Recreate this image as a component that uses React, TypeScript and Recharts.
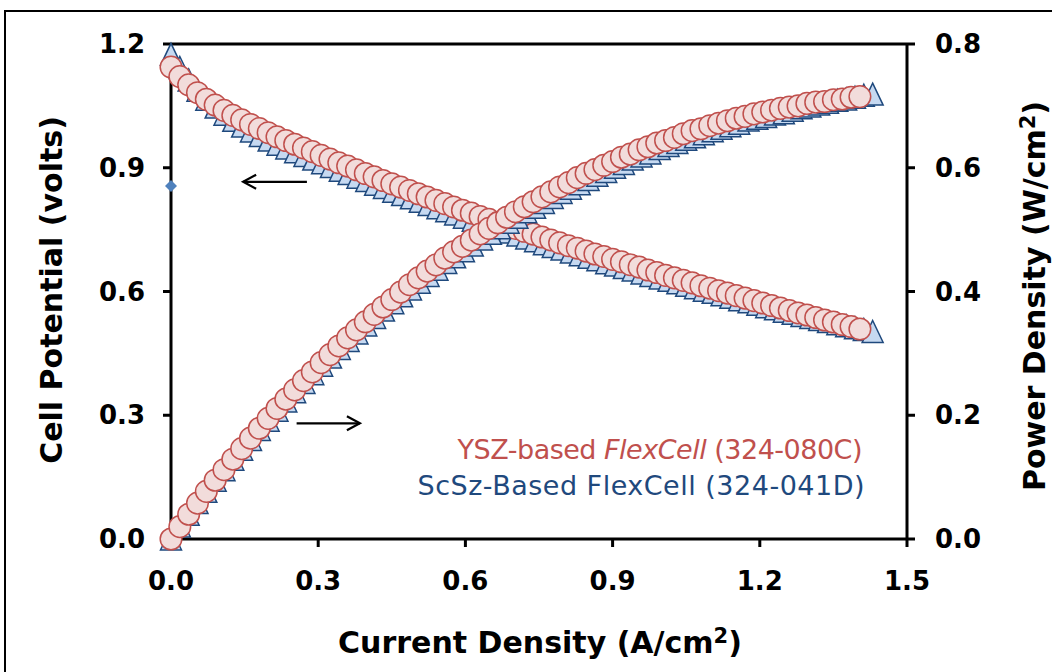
import React from 'react';
import { ScatterChart, Scatter, XAxis, YAxis, ReferenceLine } from 'recharts';

// YSZ-based FlexCell (324-080C): current density (A/cm2), cell potential (V), power density (W/cm2)
const yszCurrent = [
  0, 0.018, 0.036, 0.054, 0.072, 0.09, 0.108, 0.126, 0.144, 0.162,
  0.18, 0.198, 0.216, 0.234, 0.252, 0.27, 0.288, 0.306, 0.324, 0.342,
  0.36, 0.378, 0.396, 0.414, 0.432, 0.45, 0.468, 0.486, 0.504, 0.522,
  0.54, 0.558, 0.576, 0.594, 0.612, 0.63, 0.648, 0.666, 0.684, 0.702,
  0.72, 0.738, 0.756, 0.774, 0.792, 0.81, 0.828, 0.846, 0.864, 0.882,
  0.9, 0.918, 0.936, 0.954, 0.972, 0.99, 1.008, 1.026, 1.044, 1.062,
  1.08, 1.098, 1.116, 1.134, 1.152, 1.17, 1.188, 1.206, 1.224, 1.242,
  1.26, 1.278, 1.296, 1.314, 1.332, 1.35, 1.368, 1.386, 1.404,
];
const yszVoltage = [
  1.144, 1.121, 1.101, 1.082, 1.066, 1.052, 1.039, 1.027, 1.016, 1.005,
  0.995, 0.985, 0.975, 0.966, 0.957, 0.948, 0.939, 0.93, 0.921, 0.912,
  0.904, 0.895, 0.886, 0.878, 0.869, 0.861, 0.853, 0.845, 0.837, 0.829,
  0.821, 0.813, 0.805, 0.797, 0.79, 0.782, 0.775, 0.767, 0.76, 0.753,
  0.746, 0.739, 0.732, 0.725, 0.718, 0.711, 0.705, 0.698, 0.691, 0.685,
  0.678, 0.672, 0.665, 0.659, 0.652, 0.646, 0.639, 0.633, 0.627, 0.621,
  0.614, 0.608, 0.602, 0.596, 0.59, 0.584, 0.578, 0.572, 0.566, 0.56,
  0.554, 0.548, 0.543, 0.537, 0.531, 0.526, 0.52, 0.515, 0.509,
];
const yszPower = [
  0, 0.02, 0.04, 0.058, 0.077, 0.095, 0.112, 0.129, 0.146, 0.163,
  0.179, 0.195, 0.211, 0.226, 0.241, 0.256, 0.27, 0.285, 0.298, 0.312,
  0.325, 0.338, 0.351, 0.363, 0.375, 0.387, 0.399, 0.411, 0.422, 0.433,
  0.443, 0.454, 0.464, 0.473, 0.483, 0.493, 0.502, 0.511, 0.52, 0.529,
  0.537, 0.545, 0.553, 0.561, 0.569, 0.576, 0.584, 0.591, 0.597, 0.604,
  0.61, 0.617, 0.622, 0.629, 0.634, 0.64, 0.644, 0.649, 0.655, 0.66,
  0.663, 0.668, 0.672, 0.676, 0.68, 0.683, 0.687, 0.69, 0.693, 0.696,
  0.698, 0.7, 0.704, 0.706, 0.707, 0.71, 0.711, 0.714, 0.715,
];

// ScSz-Based FlexCell (324-041D)
const scszCurrent = [
  0, 0.018, 0.036, 0.054, 0.072, 0.091, 0.109, 0.127, 0.145, 0.163,
  0.181, 0.199, 0.217, 0.235, 0.253, 0.272, 0.29, 0.308, 0.326, 0.344,
  0.362, 0.38, 0.398, 0.416, 0.434, 0.453, 0.471, 0.489, 0.507, 0.525,
  0.543, 0.561, 0.579, 0.597, 0.615, 0.634, 0.652, 0.67, 0.688, 0.706,
  0.724, 0.742, 0.76, 0.778, 0.796, 0.815, 0.833, 0.851, 0.869, 0.887,
  0.905, 0.923, 0.941, 0.959, 0.977, 0.996, 1.014, 1.032, 1.05, 1.068,
  1.086, 1.104, 1.122, 1.14, 1.158, 1.177, 1.195, 1.213, 1.231, 1.249,
  1.267, 1.285, 1.303, 1.321, 1.339, 1.358, 1.376, 1.394, 1.412, 1.43,
];
const scszVoltage = [
  1.175, 1.143, 1.113, 1.088, 1.066, 1.047, 1.03, 1.015, 1.001, 0.989,
  0.978, 0.967, 0.957, 0.948, 0.939, 0.93, 0.921, 0.912, 0.903, 0.894,
  0.886, 0.877, 0.869, 0.86, 0.852, 0.843, 0.835, 0.827, 0.819, 0.811,
  0.803, 0.796, 0.788, 0.78, 0.773, 0.765, 0.758, 0.751, 0.744, 0.737,
  0.73, 0.723, 0.716, 0.709, 0.703, 0.696, 0.689, 0.683, 0.677, 0.67,
  0.664, 0.658, 0.652, 0.645, 0.639, 0.633, 0.627, 0.621, 0.615, 0.609,
  0.603, 0.598, 0.592, 0.586, 0.58, 0.575, 0.569, 0.563, 0.558, 0.552,
  0.547, 0.542, 0.537, 0.532, 0.527, 0.522, 0.517, 0.512, 0.508, 0.503,
];
const scszPower = [
  0, 0.021, 0.04, 0.059, 0.077, 0.095, 0.112, 0.129, 0.145, 0.161,
  0.177, 0.192, 0.208, 0.223, 0.238, 0.253, 0.267, 0.281, 0.294, 0.308,
  0.321, 0.333, 0.346, 0.358, 0.37, 0.382, 0.393, 0.404, 0.415, 0.426,
  0.436, 0.447, 0.456, 0.466, 0.475, 0.485, 0.494, 0.503, 0.512, 0.52,
  0.529, 0.536, 0.544, 0.552, 0.56, 0.567, 0.574, 0.581, 0.588, 0.594,
  0.601, 0.607, 0.614, 0.619, 0.624, 0.631, 0.636, 0.641, 0.646, 0.65,
  0.655, 0.66, 0.664, 0.668, 0.672, 0.677, 0.68, 0.683, 0.687, 0.689,
  0.693, 0.697, 0.7, 0.703, 0.706, 0.709, 0.711, 0.714, 0.717, 0.719,
];

// lone ScSz point on the potential axis
const strayCurrent = [0];
const strayVoltage = [0.856];

const xTicks = [0, 0.3, 0.6, 0.9, 1.2, 1.5];
const voltTicks = [0, 0.3, 0.6, 0.9, 1.2];
const powerTicks = [0, 0.2, 0.4, 0.6, 0.8];

// arrow annotations, in data units: [x from, x to, y]
const voltArrow = [0.277, 0.147, 0.866];
const powerArrow = [0.256, 0.385, 0.187];

const FONT = '"DejaVu Sans", Verdana, sans-serif';

const pts = (xs: number[], ys: number[]) => xs.map((x, k) => ({ x, y: ys[k] }));

const Ring = (p: any) => (
  <circle cx={p.cx} cy={p.cy} r={10.8} fill="#F2DCDB" stroke="#C0504D" strokeWidth={1.5} />
);

const Tri = (p: any) => (
  <polygon
    points={`${p.cx},${p.cy - 11} ${p.cx + 10.5},${p.cy + 11} ${p.cx - 10.5},${p.cy + 11}`}
    fill="#C6D9F1"
    stroke="#1F497D"
    strokeWidth={1.5}
  />
);

const Diamond = (p: any) => (
  <polygon
    points={`${p.cx},${p.cy - 6} ${p.cx + 6},${p.cy} ${p.cx},${p.cy + 6} ${p.cx - 6},${p.cy}`}
    fill="#4F81BD"
  />
);

const Arrow = (p: any) => {
  const { x1, y1, x2, y2 } = p;
  const dir = x2 > x1 ? 1 : -1;
  return (
    <g stroke="#000" strokeWidth={2.2} fill="none">
      <line x1={x1} y1={y1} x2={x2} y2={y2} />
      <polyline points={`${x2 - dir * 13},${y2 - 7} ${x2},${y2} ${x2 - dir * 13},${y2 + 7}`} />
    </g>
  );
};

const tickStyle = { fill: '#000', fontSize: 26, fontWeight: 'bold', fontFamily: FONT };
const black = { stroke: '#000', strokeWidth: 3 };

const App: React.FC = () => {
  const title: React.CSSProperties = {
    position: 'absolute',
    fontFamily: FONT,
    fontWeight: 'bold',
    fontSize: 30,
    whiteSpace: 'nowrap',
    color: '#000',
    transform: 'translate(-50%, -50%)',
  };
  const sup: React.CSSProperties = { fontSize: '0.7em', verticalAlign: '0.45em' };
  const legendLine: React.CSSProperties = {
    position: 'absolute',
    fontFamily: FONT,
    fontSize: 27,
    lineHeight: '27px',
    whiteSpace: 'nowrap',
    textAlign: 'right',
  };

  return (
    <div style={{ position: 'fixed', left: 0, top: 0, width: 1052, height: 672, background: '#fff', overflow: 'hidden' }}>
      <div style={{ position: 'absolute', left: 4, top: 10, width: 1080, height: 700, border: '2px solid #000', boxSizing: 'border-box' }} />
      <div style={{ position: 'absolute', left: 0, top: 0 }}>
        <ScatterChart width={1052} height={672} margin={{ top: 44, right: 0, bottom: 0, left: 0 }}>
          <XAxis
            type="number"
            dataKey="x"
            domain={[0, 1.5]}
            ticks={xTicks}
            tickFormatter={(v: number) => v.toFixed(1)}
            height={133}
            tickSize={8}
            tickMargin={25}
            tick={tickStyle}
            axisLine={black}
            tickLine={black}
          />
          <YAxis
            yAxisId="left"
            type="number"
            dataKey="y"
            domain={[0, 1.2]}
            ticks={voltTicks}
            tickFormatter={(v: number) => v.toFixed(1)}
            width={171}
            tickSize={8}
            tickMargin={18}
            tick={tickStyle}
            axisLine={black}
            tickLine={black}
          />
          <YAxis
            yAxisId="right"
            orientation="right"
            type="number"
            dataKey="y"
            domain={[0, 0.8]}
            ticks={powerTicks}
            tickFormatter={(v: number) => v.toFixed(1)}
            width={145}
            tickSize={8}
            tickMargin={20}
            tick={tickStyle}
            axisLine={black}
            tickLine={black}
          />
          <ReferenceLine yAxisId="left" y={1.2} stroke="#000" strokeWidth={3} />
          <ReferenceLine
            yAxisId="left"
            segment={[{ x: voltArrow[0], y: voltArrow[2] }, { x: voltArrow[1], y: voltArrow[2] }]}
            shape={Arrow}
          />
          <ReferenceLine
            yAxisId="right"
            segment={[{ x: powerArrow[0], y: powerArrow[2] }, { x: powerArrow[1], y: powerArrow[2] }]}
            shape={Arrow}
          />
          <Scatter yAxisId="left" data={pts(scszCurrent, scszVoltage)} shape={Tri} isAnimationActive={false} />
          <Scatter yAxisId="left" data={pts(yszCurrent, yszVoltage)} shape={Ring} isAnimationActive={false} />
          <Scatter yAxisId="right" data={pts(scszCurrent, scszPower)} shape={Tri} isAnimationActive={false} />
          <Scatter yAxisId="right" data={pts(yszCurrent, yszPower)} shape={Ring} isAnimationActive={false} />
          <Scatter yAxisId="left" data={pts(strayCurrent, strayVoltage)} shape={Diamond} isAnimationActive={false} />
        </ScatterChart>
      </div>

      <div style={{ ...title, left: 51, top: 290, transform: 'translate(-50%, -50%) rotate(-90deg)' }}>
        Cell Potential (volts)
      </div>
      <div style={{ ...title, left: 1034, top: 296, transform: 'translate(-50%, -50%) rotate(-90deg)' }}>
        Power Density (W/cm<span style={sup}>2</span>)
      </div>
      <div style={{ ...title, left: 540, top: 642 }}>
        Current Density (A/cm<span style={sup}>2</span>)
      </div>

      <div style={{ ...legendLine, right: 1052 - 862, top: 436, color: '#C0504D', letterSpacing: -0.5 }}>
        YSZ-based <i>FlexCell</i> (324-080C)
      </div>
      <div style={{ ...legendLine, right: 1052 - 865, top: 472, color: '#1F497D', letterSpacing: 0.5 }}>
        ScSz-Based FlexCell (324-041D)
      </div>
    </div>
  );
};

export default App;
